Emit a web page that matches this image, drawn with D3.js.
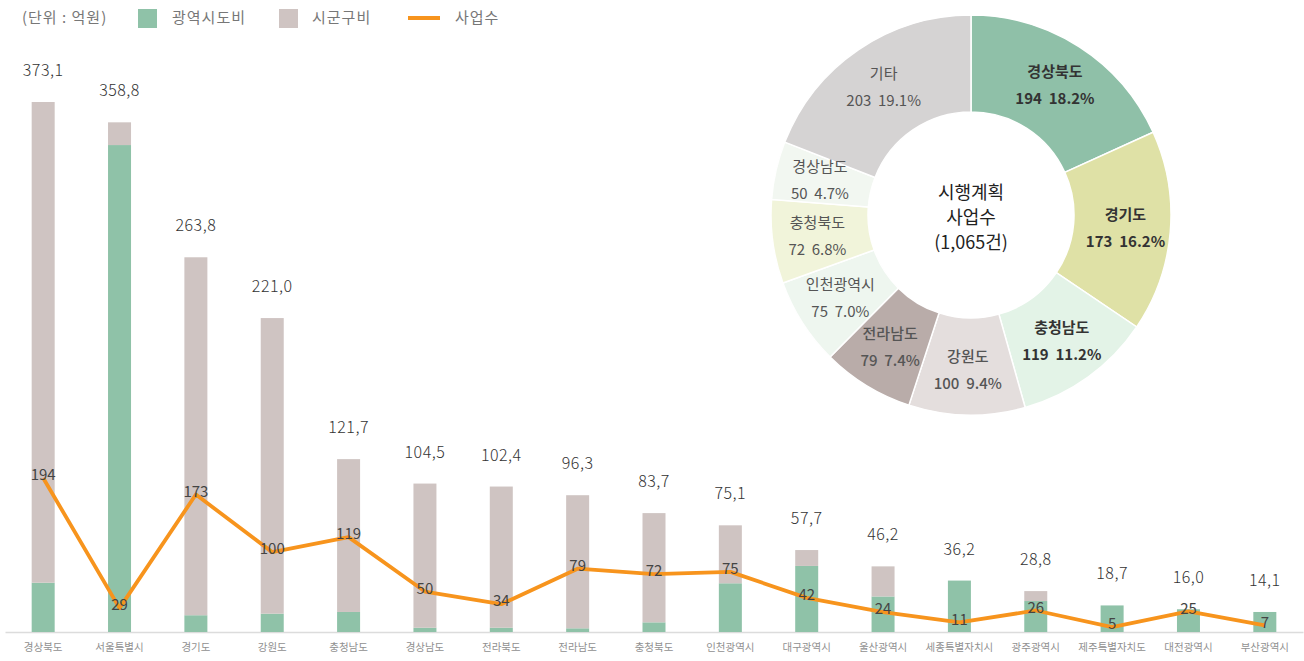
<!DOCTYPE html>
<html>
<head>
<meta charset="utf-8">
<script src="https://cdn.jsdelivr.net/npm/d3@7"></script>
<style>
  body { margin: 0; background: #fff; }
  svg { font-family: "Noto Sans CJK KR", "Noto Sans", sans-serif; }
</style>
</head>
<body>
<svg id="chart" width="1304" height="661"></svg>
<script>
// bar chart data (억원, 사업수)
var regions = ["경상북도", "서울특별시", "경기도", "강원도", "충청남도", "경상남도", "전라북도", "전라남도", "충청북도",
    "인천광역시", "대구광역시", "울산광역시", "세종특별자치시", "광주광역시", "제주특별자치도", "대전광역시", "부산광역시"];
var cityProvince = [34.7, 342.8, 11.8, 12.9, 14.1, 3.0, 3.0, 2.6, 6.8, 34.3, 46.5, 25.0, 36.2, 21.8, 18.7, 16.0, 14.1];
var sigungu = [338.4, 16.0, 252.0, 208.1, 107.6, 101.5, 99.4, 93.7, 76.9, 40.8, 11.2, 21.2, 0, 7.0, 0, 0, 0];
var totals = [373.1, 358.8, 263.8, 221.0, 121.7, 104.5, 102.4, 96.3, 83.7, 75.1, 57.7, 46.2, 36.2, 28.8, 18.7, 16.0, 14.1];
var projects = [194, 29, 173, 100, 119, 50, 34, 79, 72, 75, 42, 24, 11, 26, 5, 25, 7];

// donut data
var pieNames = ["경상북도", "경기도", "충청남도", "강원도", "전라남도", "인천광역시", "충청북도", "경상남도", "기타"];
var pieCounts = [194, 173, 119, 100, 79, 75, 72, 50, 203];
var piePcts = ["18.2%", "16.2%", "11.2%", "9.4%", "7.4%", "7.0%", "6.8%", "4.7%", "19.1%"];
var pieColors = ["#8fc0a8", "#dfe1a6", "#e3f3e7", "#e4dedd", "#b9aca9", "#eef6ef", "#f1f4da", "#f2f7f1", "#d5d3d3"];
var pieWeights = [700, 700, 700, 500, 500, 400, 400, 400, 400];

var green = "#8fc2a8", brown = "#cfc4c2", orange = "#f7941d";

var svg = d3.select("#chart");

//Scales
var x = d3.scaleBand().domain(regions).range([5, 1303]);
var y = d3.scaleLinear().domain([0, 400]).range([632, 63.8]);
var yCount = d3.scaleLinear().domain([0, 800]).range([631, 0]);
var barW = 23;

//X axis
svg.append("g")
    .attr("class", "xAxis")
    .attr("transform", "translate(0,632)")
    .call(d3.axisBottom(x).tickSize(0).tickPadding(12))
    .call(g => g.select(".domain").attr("stroke", "#dcdcdc").attr("stroke-width", 1.5))
    .selectAll("text")
    .attr("font-size", "10.5px")
    .attr("fill", "#909090")
    .style("font-family", "'Noto Sans CJK KR', sans-serif");

//Stacked bars
var rows = regions.map((r, i) => ({ region: r, city: cityProvince[i], sigungu: sigungu[i] }));
var stack = d3.stack().keys(["city", "sigungu"])(rows);
var colors = { city: green, sigungu: brown };

svg.append("g").selectAll("g")
    .data(stack)
    .enter().append("g")
    .attr("fill", d => colors[d.key])
    .selectAll("rect")
    .data(d => d)
    .enter().append("rect")
    .attr("x", d => x(d.data.region) + (x.bandwidth() - barW) / 2)
    .attr("y", d => y(d[1]))
    .attr("width", barW)
    .attr("height", d => y(d[0]) - y(d[1]));

//Total labels
svg.append("g").selectAll("text")
    .data(totals)
    .enter().append("text")
    .attr("x", (d, i) => x(regions[i]) + x.bandwidth() / 2)
    .attr("y", d => y(d) - 26)
    .attr("text-anchor", "middle")
    .attr("font-size", "16px")
    .attr("font-weight", 300)
    .attr("letter-spacing", "0.5px")
    .attr("fill", "#333")
    .text(d => d3.format(".1f")(d).replace(".", ","));

//Project count line
var line = d3.line()
    .x((d, i) => x(regions[i]) + x.bandwidth() / 2)
    .y(d => yCount(d));

svg.append("path")
    .datum(projects)
    .attr("d", line)
    .attr("fill", "none")
    .attr("stroke", orange)
    .attr("stroke-width", 3.8)
    .attr("stroke-linejoin", "round");

svg.append("g").selectAll("text")
    .data(projects)
    .enter().append("text")
    .attr("x", (d, i) => x(regions[i]) + x.bandwidth() / 2)
    .attr("y", d => yCount(d) - 3)
    .attr("dy", "0.35em")
    .attr("text-anchor", "middle")
    .attr("font-size", "15px")
    .attr("fill", "#444")
    .text(d => d);

//Legend
var legend = svg.append("g").attr("font-size", "15px").attr("fill", "#777").attr("letter-spacing", "1px");
legend.append("text").attr("x", 22).attr("y", 23).style("white-space", "pre").text("(단위 : 억원)");
legend.append("rect").attr("x", 138).attr("y", 9).attr("width", 19).attr("height", 19).attr("fill", green);
legend.append("text").attr("x", 172).attr("y", 23).text("광역시도비");
legend.append("rect").attr("x", 279).attr("y", 9).attr("width", 19).attr("height", 19).attr("fill", brown);
legend.append("text").attr("x", 312).attr("y", 23).text("시군구비");
legend.append("line").attr("x1", 408).attr("x2", 440).attr("y1", 18).attr("y2", 18)
    .attr("stroke", orange).attr("stroke-width", 4);
legend.append("text").attr("x", 455).attr("y", 23).text("사업수");

//Donut
var pieData = pieNames.map((n, i) => ({ name: n, count: pieCounts[i], pct: piePcts[i], color: pieColors[i], weight: pieWeights[i] }));
var pie = d3.pie().sort(null).value(d => d.count);
var arc = d3.arc().innerRadius(103).outerRadius(200);
var labelArc = d3.arc().innerRadius(155).outerRadius(155);

var donut = svg.append("g").attr("transform", "translate(971,215)");

donut.selectAll("path")
    .data(pie(pieData))
    .enter().append("path")
    .attr("d", arc)
    .attr("fill", d => d.data.color)
    .attr("stroke", "#fff")
    .attr("stroke-width", 1.5);

var labels = donut.selectAll(".slice-label")
    .data(pie(pieData))
    .enter().append("text")
    .attr("class", "slice-label")
    .attr("transform", d => "translate(" + labelArc.centroid(d) + ")")
    .attr("text-anchor", "middle")
    .attr("font-size", "15px")
    .attr("font-weight", d => d.data.weight)
    .attr("fill", d => d.data.weight > 600 ? "#333" : "#555");

labels.append("tspan").attr("x", 0).attr("y", -8).text(d => d.data.name);
labels.append("tspan").attr("x", 0).attr("y", 19).text(d => d.data.count + "  " + d.data.pct)
    .style("white-space", "pre");

var center = donut.append("text")
    .attr("text-anchor", "middle")
    .attr("font-size", "18px")
    .attr("font-weight", 400)
    .attr("fill", "#222");
center.append("tspan").attr("x", 0).attr("y", -16).text("시행계획");
center.append("tspan").attr("x", 0).attr("y", 9).text("사업수");
center.append("tspan").attr("x", 0).attr("y", 34).text("(1,065건)");
</script>
</body>
</html>
